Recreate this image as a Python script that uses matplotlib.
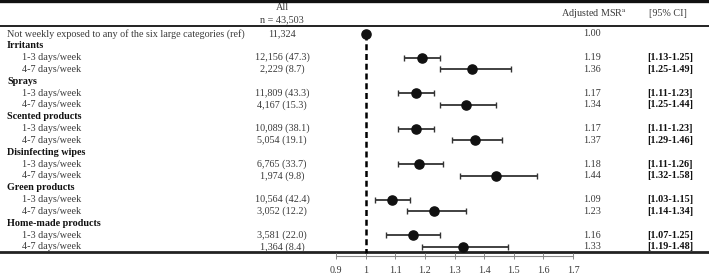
import matplotlib.pyplot as plt

plt.rcParams['font.family'] = ['Liberation Serif', 'DejaVu Serif']
plt.rcParams['mathtext.fontset'] = 'stix'

labels = ['Not weekly exposed to any of the six large categories (ref)',
          'Irritants', '1-3 days/week', '4-7 days/week',
          'Sprays', '1-3 days/week', '4-7 days/week',
          'Scented products', '1-3 days/week', '4-7 days/week',
          'Disinfecting wipes', '1-3 days/week', '4-7 days/week',
          'Green products', '1-3 days/week', '4-7 days/week',
          'Home-made products', '1-3 days/week', '4-7 days/week']
kind = ['ref', 'head', 'sub', 'sub', 'head', 'sub', 'sub', 'head', 'sub', 'sub',
        'head', 'sub', 'sub', 'head', 'sub', 'sub', 'head', 'sub', 'sub']
counts = ['11,324', '', '12,156 (47.3)', '2,229 (8.7)', '', '11,809 (43.3)', '4,167 (15.3)',
          '', '10,089 (38.1)', '5,054 (19.1)', '', '6,765 (33.7)', '1,974 (9.8)',
          '', '10,564 (42.4)', '3,052 (12.2)', '', '3,581 (22.0)', '1,364 (8.4)']
msr = [1.00, None, 1.19, 1.36, None, 1.17, 1.34, None, 1.17, 1.37,
       None, 1.18, 1.44, None, 1.09, 1.23, None, 1.16, 1.33]
lo = [None, None, 1.13, 1.25, None, 1.11, 1.25, None, 1.11, 1.29,
      None, 1.11, 1.32, None, 1.03, 1.14, None, 1.07, 1.19]
hi = [None, None, 1.25, 1.49, None, 1.23, 1.44, None, 1.23, 1.46,
      None, 1.26, 1.58, None, 1.15, 1.34, None, 1.25, 1.48]
ticks = [0.9, 1, 1.1, 1.2, 1.3, 1.4, 1.5, 1.6, 1.7]

W, H = 709, 274
fig = plt.figure(figsize=(W / 100, H / 100), dpi=100)

# row layout in pixels
y0, dy = 34.0, 11.83
def row(py):
    return (py - y0) / dy

bg = fig.add_axes([0, 0, 1, 1])
bg.set_xlim(0, W)
bg.set_ylim(row(H), row(0))
bg.axis('off')

fs = 7.3
txt = '#3a3a3a'
for i, lab in enumerate(labels):
    if kind[i] == 'ref':
        bg.text(7, i, lab, fontsize=fs, color=txt, va='center', ha='left')
    elif kind[i] == 'head':
        bg.text(7, i, lab, fontsize=fs, color='#111111', weight='bold', va='center', ha='left')
    else:
        bg.text(22, i, lab, fontsize=fs, color=txt, va='center', ha='left')
    if counts[i]:
        bg.text(282, i, counts[i], fontsize=fs, color=txt, va='center', ha='center')
    if msr[i] is not None:
        bg.text(583, i, '%.2f' % msr[i], fontsize=fs, color=txt, va='center', ha='left')
    if lo[i] is not None:
        bg.text(670, i, '[%.2f-%.2f]' % (lo[i], hi[i]), fontsize=fs, color='#111111',
                weight='bold', va='center', ha='center')

# header
bg.text(282, row(8), 'All', fontsize=fs, color=txt, va='center', ha='center')
bg.text(282, row(20), 'n = 43,503', fontsize=fs, color=txt, va='center', ha='center')
bg.text(594, row(14), 'Adjusted MSR$^{\\mathrm{a}}$', fontsize=fs, color=txt, va='center', ha='center')
bg.text(668, row(14), '[95% CI]', fontsize=fs, color=txt, va='center', ha='center')

# rules
bg.axhline(row(1.2), color='#111111', lw=2.4)
bg.axhline(row(26), color='#222222', lw=1.4)
bg.axhline(row(252), color='#222222', lw=2.0)

# forest plot axes
ax_bot, ax_top = 256, 28
ax = fig.add_axes([336 / W, 1 - ax_bot / H, (573 - 336) / W, (ax_bot - ax_top) / H])
ax.set_xlim(0.9, 1.7)
ax.set_ylim(row(ax_bot), row(ax_top))
ax.patch.set_alpha(0)
for s in ['top', 'right', 'left']:
    ax.spines[s].set_visible(False)
ax.spines['bottom'].set_color('#888888')
ax.spines['bottom'].set_linewidth(0.8)
ax.set_yticks([])
ax.set_xticks(ticks)
ax.set_xticklabels(['%g' % t for t in ticks])
ax.tick_params(axis='x', direction='inout', length=5, width=0.7, color='#888888',
               labelsize=fs, labelcolor=txt, pad=5)

ax.plot([1, 1], [0, row(253)], color='black', lw=1.8, ls=(0, (2.4, 1.5)))
for i in range(len(labels)):
    if msr[i] is None:
        continue
    if lo[i] is not None:
        ax.errorbar(msr[i], i, xerr=[[msr[i] - lo[i]], [hi[i] - msr[i]]], fmt='none',
                    ecolor='#333333', elinewidth=1.3, capsize=2.2, capthick=1.0)
    ax.plot(msr[i], i, 'o', color='#111111', ms=6.6, zorder=5)

fig.savefig('out.png', dpi=100)
